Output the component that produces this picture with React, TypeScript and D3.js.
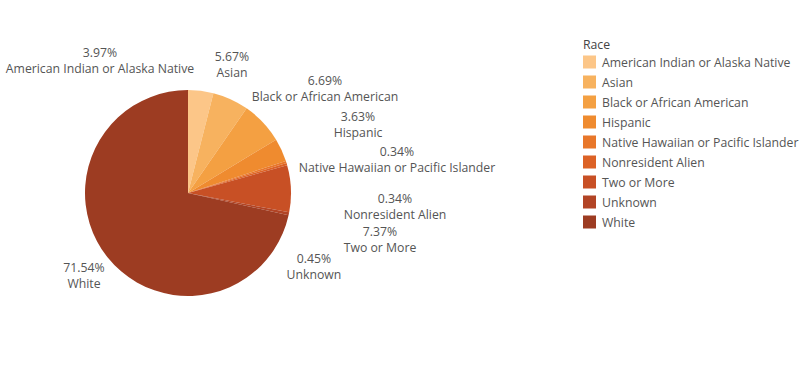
import React from "react";
import * as d3 from "d3";

const categories = [
  "American Indian or Alaska Native",
  "Asian",
  "Black or African American",
  "Hispanic",
  "Native Hawaiian or Pacific Islander",
  "Nonresident Alien",
  "Two or More",
  "Unknown",
  "White",
];
const values = [3.97, 5.67, 6.69, 3.63, 0.34, 0.34, 7.37, 0.45, 71.54];
const colors = [
  "#fcc688",
  "#f7b25f",
  "#f4a042",
  "#ef8b2f",
  "#e8772a",
  "#dc6226",
  "#c85025",
  "#b24425",
  "#9d3c22",
];
const legendTitle = "Race";

// label anchor positions (layout, centre of the two-line label)
const labelPos: [number, number][] = [
  [100, 61],
  [232, 65],
  [325, 89],
  [358, 125],
  [397, 160],
  [395, 207],
  [380, 240],
  [314, 267],
  [84, 276],
];

const W = 811;
const H = 368;
const cx = 188;
const cy = 193;
const R = 103;
const FONT = "'Open Sans', Lato, sans-serif";
const FS = 12.25;

export default function App() {
  const pie = d3
    .pie<number>()
    .sort(null)
    .value((d) => d)
    .startAngle(0)
    .endAngle(2 * Math.PI);
  const arcs = pie(values);
  const arcGen = d3.arc<d3.PieArcDatum<number>>().innerRadius(0).outerRadius(R);

  return (
    <svg
      width={W}
      height={H}
      style={{ position: "absolute", left: 0, top: 0, background: "#fff" }}
      fontFamily={FONT}
    >
      <g transform={`translate(${cx},${cy})`}>
        {arcs.map((a, i) => (
          <path key={i} d={arcGen(a) || ""} fill={colors[i]} stroke="none" />
        ))}
      </g>
      {categories.map((c, i) => (
        <g key={c} transform={`translate(${labelPos[i][0]},${labelPos[i][1]})`}>
          <text textAnchor="middle" y={-4} fontSize={FS} fill="#555">
            {values[i].toFixed(2)}%
          </text>
          <text textAnchor="middle" y={12} fontSize={FS} fill="#555">
            {c}
          </text>
        </g>
      ))}
      <g transform="translate(583,0)">
        <text x={0} y={49} fontSize={FS} fill="#444">
          {legendTitle}
        </text>
        {categories.map((c, i) => (
          <g key={c} transform={`translate(0,${62 + i * 20})`}>
            <rect x={0} y={-6.5} width={13} height={13} fill={colors[i]} />
            <text x={19} y={4.5} fontSize={FS} fill="#555">
              {c}
            </text>
          </g>
        ))}
      </g>
    </svg>
  );
}
